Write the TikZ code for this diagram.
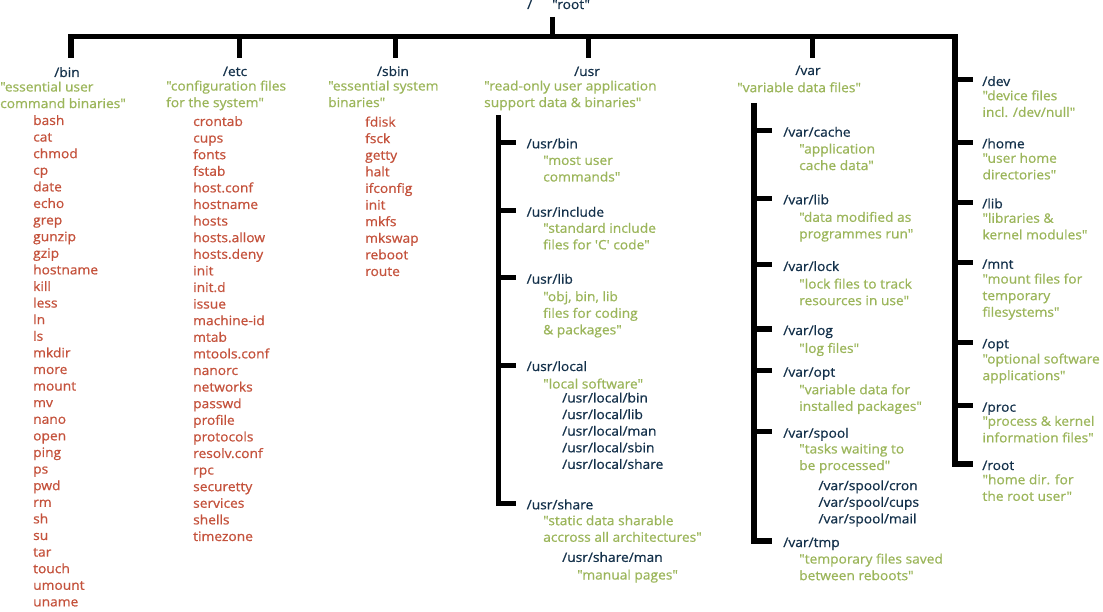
\documentclass[tikz,border=0pt]{standalone}
\usepackage{fontspec}
\setmainfont{Open Sans}[Ligatures=TeXOff, FakeStretch=1.06, FakeBold=0.8]
\definecolor{dirblue}{HTML}{13304A}
\definecolor{descgreen}{HTML}{9BB55A}
\definecolor{filered}{HTML}{C4523C}
\newcommand{\treefont}{\fontsize{13}{16.6}\selectfont}
\newcommand{\linestrut}{\rule{0pt}{11.6pt}}
\tikzset{
	dirname/.style={text=dirblue, inner sep=0pt, font=\treefont},
	topdir/.style={dirname, anchor=base},
	subdir/.style={dirname, anchor=west, text height=12pt, text depth=0pt, outer xsep=11pt},
	note/.style={text=descgreen, inner sep=0pt, font=\treefont, align=left, anchor=north west, yshift=11.6pt, execute at begin node=\linestrut},
	filelist/.style={note, text=filered},
	sublist/.style={note, text=dirblue},
	trunk/.style={line width=5.5pt, line join=miter},
	twig/.style={line width=5pt},
}

\begin{document}
\begin{tikzpicture}[x=1pt, y=-1pt]
	\useasboundingbox (0,0) rectangle (1103,612);
	% root
	\node[dirname, anchor=base west] (slash) at (527,9) {/};
	\node[dirname, anchor=base west] (rootname) at (552,9) {"root"};
	\coordinate (roottop) at (552.5,17);
	\coordinate (barend) at (955,36.3);
	% first level, under the bar
	\node[topdir] (bin) at (67,77) {/bin};
	\node[note] (binnote) at (0,93) {"essential user\\command binaries"};
	\node[filelist] (binfiles) at (33,126.5) {bash\\cat\\chmod\\cp\\date\\echo\\grep\\gunzip\\gzip\\hostname\\kill\\less\\ln\\ls\\mkdir\\more\\mount\\mv\\nano\\open\\ping\\ps\\pwd\\rm\\sh\\su\\tar\\touch\\umount\\uname};
	\node[topdir] (etc) at (235,76) {/etc};
	\node[note] (etcnote) at (166,92) {"configuration files\\for the system"};
	\node[filelist] (etcfiles) at (193,127.5) {crontab\\cups\\fonts\\fstab\\host.conf\\hostname\\hosts\\hosts.allow\\hosts.deny\\init\\init.d\\issue\\machine-id\\mtab\\mtools.conf\\nanorc\\networks\\passwd\\profile\\protocols\\resolv.conf\\rpc\\securetty\\services\\shells\\timezone};
	\node[topdir] (sbin) at (393,76) {/sbin};
	\node[note] (sbinnote) at (328,92) {"essential system\\binaries"};
	\node[filelist] (sbinfiles) at (365,128) {fdisk\\fsck\\getty\\halt\\ifconfig\\init\\mkfs\\mkswap\\reboot\\route};
	\node[topdir] (usr) at (587,76) {/usr};
	\node[note] (usrnote) at (484,92) {"read-only user application\\support data \& binaries"};
	\node[topdir] (var) at (808,75) {/var};
	\node[note] (varnote) at (737,92) {"variable data files"};
	\coordinate (binstub) at (71,58);
	\coordinate (etcstub) at (239.2,58);
	\coordinate (sbinstub) at (395,58);
	\coordinate (usrstub) at (588.5,58);
	\coordinate (varstub) at (812.5,58);
	% /usr
	\node[subdir] (usrbin) at (515.7,142.3) {/usr/bin};
	\node[note] (usrbinnote) at (543,167) {"most user\\commands"};
	\node[subdir] (usrinclude) at (515.7,210.7) {/usr/include};
	\node[note] (usrincludenote) at (543,234.3) {"standard include\\files for 'C' code"};
	\node[subdir] (usrlib) at (515.7,277.7) {/usr/lib};
	\node[note] (usrlibnote) at (543,302.7) {"obj, bin, lib\\files for coding\\\& packages"};
	\node[subdir] (usrlocal) at (515.7,365) {/usr/local};
	\node[note] (usrlocalnote) at (543,388.3) {"local software"};
	\node[sublist] (usrlocalsubs) at (562,404) {/usr/local/bin\\/usr/local/lib\\/usr/local/man\\/usr/local/sbin\\/usr/local/share};
	\node[subdir] (usrshare) at (515.7,503.3) {/usr/share};
	\node[note] (usrsharenote) at (543,526.7) {"static data sharable\\accross all architectures"};
	\node[sublist] (usrshareman) at (562,561.7) {/usr/share/man};
	\node[note] (usrsharemannote) at (577,579.3) {"manual pages"};
	\coordinate (usrtop) at (498.3,115);
	% /var
	\node[subdir] (varcache) at (772.3,130.7) {/var/cache};
	\node[note] (varcachenote) at (799,155) {"application\\cache data"};
	\node[subdir] (varlib) at (772.3,198.3) {/var/lib};
	\node[note] (varlibnote) at (799,223.3) {"data modified as\\programmes run"};
	\node[subdir] (varlock) at (772.3,265) {/var/lock};
	\node[note] (varlocknote) at (799,290) {"lock files to track\\resources in use"};
	\node[subdir] (varlog) at (772.3,329) {/var/log};
	\node[note] (varlognote) at (799,352.7) {"log files"};
	\node[subdir] (varopt) at (772.3,370.7) {/var/opt};
	\node[note] (varoptnote) at (799,395.7) {"variable data for\\installed packages"};
	\node[subdir] (varspool) at (772.3,431.7) {/var/spool};
	\node[note] (varspoolnote) at (799,455) {"tasks waiting to\\be processed"};
	\node[sublist] (varspoolsubs) at (818.3,491.7) {/var/spool/cron\\/var/spool/cups\\/var/spool/mail};
	\node[subdir] (vartmp) at (772.3,541) {/var/tmp};
	\node[note] (vartmpnote) at (799,565) {"temporary files saved\\between reboots"};
	\coordinate (vartop) at (754,103);
	% right hand column
	\node[subdir, outer xsep=9pt] (dev) at (973.3,80) {/dev};
	\node[note] (devnote) at (982.3,101.7) {"device files\\incl. /dev/null"};
	\node[subdir, outer xsep=9pt] (home) at (973.3,142.3) {/home};
	\node[note] (homenote) at (982.3,164.3) {"user home\\directories"};
	\node[subdir, outer xsep=9pt] (lib) at (973.3,202.3) {/lib};
	\node[note] (libnote) at (982.3,224.3) {"libraries \&\\kernel modules"};
	\node[subdir, outer xsep=9pt] (mnt) at (973.3,262.7) {/mnt};
	\node[note] (mntnote) at (982.3,285) {"mount files for\\temporary\\filesystems"};
	\node[subdir, outer xsep=9pt] (opt) at (973.3,342.3) {/opt};
	\node[note] (optnote) at (982.3,365) {"optional software\\applications"};
	\node[subdir, outer xsep=9pt] (proc) at (973.3,405.7) {/proc};
	\node[note] (procnote) at (982.3,427.3) {"process \& kernel\\information files"};
	\node[subdir, outer xsep=9pt] (rootdir) at (973.3,464) {/root};
	\node[note] (rootdirnote) at (982.3,485.7) {"home dir. for\\the root user"};

	% the tree
	\draw[trunk] (binstub) |- (barend) |- (rootdir.west);
	\draw[twig] (roottop) -- (roottop |- barend);
	\draw[twig] (etcstub) -- (etcstub |- barend);
	\draw[twig] (sbinstub) -- (sbinstub |- barend);
	\draw[twig] (usrstub) -- (usrstub |- barend);
	\draw[twig] (varstub) -- (varstub |- barend);
	\draw[trunk] (usrtop) |- (usrshare.west);
	\draw[twig] (usrtop |- usrbin.west) -- (usrbin.west);
	\draw[twig] (usrtop |- usrinclude.west) -- (usrinclude.west);
	\draw[twig] (usrtop |- usrlib.west) -- (usrlib.west);
	\draw[twig] (usrtop |- usrlocal.west) -- (usrlocal.west);
	\draw[trunk] (vartop) |- (vartmp.west);
	\draw[twig] (vartop |- varcache.west) -- (varcache.west);
	\draw[twig] (vartop |- varlib.west) -- (varlib.west);
	\draw[twig] (vartop |- varlock.west) -- (varlock.west);
	\draw[twig] (vartop |- varlog.west) -- (varlog.west);
	\draw[twig] (vartop |- varopt.west) -- (varopt.west);
	\draw[twig] (vartop |- varspool.west) -- (varspool.west);
	\draw[twig] (barend |- dev.west) -- (dev.west);
	\draw[twig] (barend |- home.west) -- (home.west);
	\draw[twig] (barend |- lib.west) -- (lib.west);
	\draw[twig] (barend |- mnt.west) -- (mnt.west);
	\draw[twig] (barend |- opt.west) -- (opt.west);
	\draw[twig] (barend |- proc.west) -- (proc.west);
\end{tikzpicture}
\end{document}
